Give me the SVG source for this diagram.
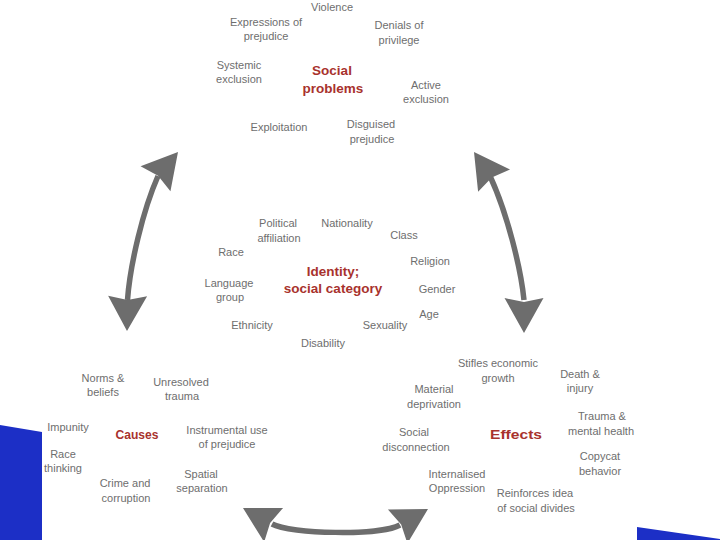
<svg xmlns="http://www.w3.org/2000/svg" xmlns:xlink="http://www.w3.org/1999/xlink" width="720" height="540" viewBox="0 0 720 540">
<style>
.t{font-family:"Liberation Sans",Arial,sans-serif;font-size:11px;fill:#6e6e6e;text-anchor:middle}
.h{font-family:"Liberation Sans",Arial,sans-serif;font-size:13.5px;font-weight:bold;fill:#a8322d;text-anchor:middle}
.shaft{fill:none;stroke:#6d6d6d;stroke-width:5.5}
.head{fill:#6d6d6d}
.blue{fill:#1c2fc6}
</style>
<defs>
<path id="ah" d="M0,0 L-35,-19.5 L-31,0 L-35,19.5 Z"/>
</defs>
<rect width="720" height="540" fill="#ffffff"/>
<polygon class="blue" points="0,425 42,432 42,540 0,540"/>
<polygon class="blue" points="637,527 720,539 720,540 637,540"/>

<g id="connectors">
<path class="shaft" d="M127.5,300 C130,265 143,210 158,176"/>
<use xlink:href="#ah" class="head" transform="translate(178,152) rotate(-50)"/>
<use xlink:href="#ah" class="head" transform="translate(127,331) rotate(91)"/>
<path class="shaft" d="M524,300 C521,270 508,215 490,176"/>
<use xlink:href="#ah" class="head" transform="translate(474,152) rotate(-125)"/>
<use xlink:href="#ah" class="head" transform="translate(524,333) rotate(90)"/>
<path class="shaft" d="M272,524 C290,534 380,536 400,525"/>
<use xlink:href="#ah" class="head" transform="translate(243,508) rotate(-151)"/>
<use xlink:href="#ah" class="head" transform="translate(428,509) rotate(-30)"/>
</g>

<g id="social-problems">
<text class="h" x="332" y="75">Social</text>
<text class="h" x="333" y="93">problems</text>
<text class="t" x="332" y="11">Violence</text>
<text class="t" x="266" y="26">Expressions of</text>
<text class="t" x="266" y="40">prejudice</text>
<text class="t" x="399" y="29">Denials of</text>
<text class="t" x="399" y="44">privilege</text>
<text class="t" x="239" y="69">Systemic</text>
<text class="t" x="239" y="83">exclusion</text>
<text class="t" x="426" y="89">Active</text>
<text class="t" x="426" y="103">exclusion</text>
<text class="t" x="279" y="131">Exploitation</text>
<text class="t" x="371" y="128">Disguised</text>
<text class="t" x="372" y="143">prejudice</text>
</g>

<g id="identity">
<text class="h" x="333" y="276">Identity;</text>
<text class="h" x="333" y="293">social category</text>
<text class="t" x="278" y="227">Political</text>
<text class="t" x="279" y="242">affiliation</text>
<text class="t" x="347" y="227">Nationality</text>
<text class="t" x="404" y="239">Class</text>
<text class="t" x="231" y="256">Race</text>
<text class="t" x="430" y="265">Religion</text>
<text class="t" x="229" y="287">Language</text>
<text class="t" x="230" y="301">group</text>
<text class="t" x="437" y="293">Gender</text>
<text class="t" x="429" y="318">Age</text>
<text class="t" x="252" y="329">Ethnicity</text>
<text class="t" x="385" y="329">Sexuality</text>
<text class="t" x="323" y="347">Disability</text>
</g>

<g id="causes">
<text class="h" x="137" y="439" textLength="43" lengthAdjust="spacingAndGlyphs">Causes</text>
<text class="t" x="103" y="382">Norms &amp;</text>
<text class="t" x="103" y="396">beliefs</text>
<text class="t" x="181" y="386">Unresolved</text>
<text class="t" x="182" y="400">trauma</text>
<text class="t" x="68" y="431">Impunity</text>
<text class="t" x="227" y="434">Instrumental use</text>
<text class="t" x="227" y="448">of prejudice</text>
<text class="t" x="63" y="458">Race</text>
<text class="t" x="63" y="472">thinking</text>
<text class="t" x="125" y="487">Crime and</text>
<text class="t" x="126" y="502">corruption</text>
<text class="t" x="201" y="478">Spatial</text>
<text class="t" x="202" y="492">separation</text>
</g>

<g id="effects">
<text class="h" x="516" y="439" textLength="52" lengthAdjust="spacingAndGlyphs">Effects</text>
<text class="t" x="498" y="367">Stifles economic</text>
<text class="t" x="498" y="382">growth</text>
<text class="t" x="580" y="378">Death &amp;</text>
<text class="t" x="580" y="392">injury</text>
<text class="t" x="434" y="393">Material</text>
<text class="t" x="434" y="408">deprivation</text>
<text class="t" x="602" y="420">Trauma &amp;</text>
<text class="t" x="601" y="435">mental health</text>
<text class="t" x="414" y="436">Social</text>
<text class="t" x="416" y="451">disconnection</text>
<text class="t" x="600" y="460">Copycat</text>
<text class="t" x="600" y="475">behavior</text>
<text class="t" x="457" y="478">Internalised</text>
<text class="t" x="457" y="492">Oppression</text>
<text class="t" x="535" y="497">Reinforces idea</text>
<text class="t" x="536" y="512">of social divides</text>
</g>
</svg>
